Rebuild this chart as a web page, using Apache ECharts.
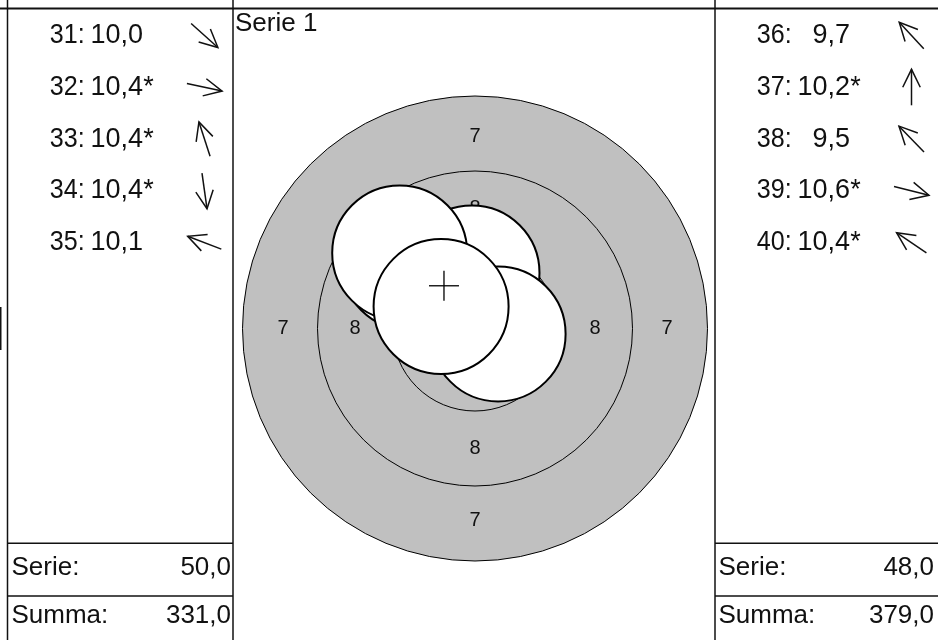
<!DOCTYPE html>
<html><head><meta charset="utf-8">
<script src="https://cdn.jsdelivr.net/npm/echarts@6/dist/echarts.min.js"></script>
<style>html,body{margin:0;padding:0;background:#fff}#c{width:938px;height:640px}</style>
</head><body><div id="c"></div><script>
// ---------- data ----------
const seriesTitle = 'Serie 1';
const leftShotNos = ['31','32','33','34','35'];
const leftScores = ['10,0','10,4','10,4','10,4','10,1'];
const leftStars = [false,true,true,true,false];
const leftArrowDeg = [-42,-12,108,-82,159];
const rightShotNos = ['36','37','38','39','40'];
const rightScores = ['9,7','10,2','9,5','10,6','10,4'];
const rightStars = [false,true,false,true,true];
const rightArrowDeg = [133,90,134,-14,146];
const footerLabels = ['Serie:','Summa:'];
const leftFooterValues = ['50,0','331,0'];
const rightFooterValues = ['48,0','379,0'];
// target, in mm (air rifle rings)
const ringRadii = [7.75,5.25,2.75,0.25];
const ringLabels = ['7','8'];
const ringLabelRadii = [6.4,4.0];
const shotX = [-2.20,-0.10,-2.51,0.77,-1.13];
const shotY = [2.20,1.85,2.52,-0.18,0.73];
const pelletRadius = 2.25;
const crossHalf = 0.5;

// ---------- chart ----------
const FONT = 'Liberation Sans, Arial, Helvetica, sans-serif';
const INK = '#111';
const chart = echarts.init(document.getElementById('c'), null, {renderer:'canvas'});

function rowsRender(nos, scores, stars, degs){
  return function(params, api){
    const i = api.value(1);
    const p = api.coord([0, i]);
    const cx = p[0] + 196.5, cy = p[1];
    const a = degs[i] * Math.PI / 180;
    const dx = Math.cos(a), dy = -Math.sin(a);
    const L = 36, B = 20, ba = 26 * Math.PI / 180;
    const hx = cx + dx*L/2, hy = cy + dy*L/2;
    const tx = cx - dx*L/2, ty = cy - dy*L/2;
    const back = Math.atan2(-dy, -dx);
    const b1 = [hx + B*Math.cos(back+ba), hy + B*Math.sin(back+ba)];
    const b2 = [hx + B*Math.cos(back-ba), hy + B*Math.sin(back-ba)];
    const ts = {fill:INK, fontSize:27, fontFamily:FONT, verticalAlign:'middle'};
    const kids = [
      {type:'text', x:p[0]+41.8, y:cy, scaleX:0.93, style:Object.assign({text:nos[i]+':', align:'left'}, ts)},
      {type:'text', x:p[0]+135, y:cy, style:Object.assign({text:scores[i], align:'right'}, ts)},
      {type:'line', shape:{x1:tx,y1:ty,x2:hx,y2:hy}, style:{stroke:INK, lineWidth:1.5}},
      {type:'polyline', shape:{points:[b1,[hx,hy],b2]}, style:{stroke:INK, lineWidth:1.5, fill:null}}
    ];
    if (stars[i]) kids.push({type:'text', x:p[0]+135.2, y:cy, style:Object.assign({text:'*', align:'left'}, ts)});
    return {type:'group', children:kids};
  };
}
function footerRender(labels, values, rightInset){
  return function(params, api){
    const i = api.value(1);
    const p = api.coord([0, i]);
    const r = api.coord([1, i]);
    const ts = {fill:INK, fontSize:26, fontFamily:FONT, verticalAlign:'middle'};
    return {type:'group', children:[
      {type:'text', x:p[0]+3.5, y:p[1], style:Object.assign({text:labels[i], align:'left'}, ts)},
      {type:'text', x:r[0]-rightInset, y:p[1], style:Object.assign({text:values[i], align:'right'}, ts)}
    ]};
  };
}

const labelData = [];
ringLabels.forEach((lab, j) => {
  [0,90,180,270].forEach(d => {
    const a = d*Math.PI/180;
    labelData.push([ringLabelRadii[j]*Math.cos(a), ringLabelRadii[j]*Math.sin(a), j]);
  });
});
const meanX = shotX.reduce((a,b)=>a+b,0)/shotX.length;
const meanY = shotY.reduce((a,b)=>a+b,0)/shotY.length;

const option = {
  animation:false,
  backgroundColor:'#fff',
  grid:[
    {left:235, top:88.5, width:480, height:480},
    {left:8, top:9.6, width:225, height:259},
    {left:715, top:9.6, width:225, height:259},
    {left:8, top:543.3, width:225, height:105.4},
    {left:715, top:543.3, width:221, height:105.4}
  ],
  xAxis:[
    {gridIndex:0, type:'value', min:-8, max:8, show:false},
    {gridIndex:1, type:'value', min:0, max:1, show:false},
    {gridIndex:2, type:'value', min:0, max:1, show:false},
    {gridIndex:3, type:'value', min:0, max:1, show:false},
    {gridIndex:4, type:'value', min:0, max:1, show:false}
  ],
  yAxis:[
    {gridIndex:0, type:'value', min:-8, max:8, show:false},
    {gridIndex:1, type:'category', data:leftShotNos, inverse:true, show:false},
    {gridIndex:2, type:'category', data:rightShotNos, inverse:true, show:false},
    {gridIndex:3, type:'category', data:footerLabels, inverse:true, show:false},
    {gridIndex:4, type:'category', data:footerLabels, inverse:true, show:false}
  ],
  graphic:[
    {type:'line', shape:{x1:0,y1:8.5,x2:938,y2:8.5}, style:{stroke:INK, lineWidth:2}, z:10},
    {type:'line', shape:{x1:7.5,y1:0,x2:7.5,y2:640}, style:{stroke:INK, lineWidth:1.5}, z:10},
    {type:'line', shape:{x1:233,y1:0,x2:233,y2:640}, style:{stroke:INK, lineWidth:1.5}, z:10},
    {type:'line', shape:{x1:715,y1:0,x2:715,y2:640}, style:{stroke:INK, lineWidth:1.5}, z:10},
    {type:'line', shape:{x1:7.5,y1:543.3,x2:233,y2:543.3}, style:{stroke:INK, lineWidth:1.5}, z:10},
    {type:'line', shape:{x1:7.5,y1:596,x2:233,y2:596}, style:{stroke:INK, lineWidth:1.5}, z:10},
    {type:'line', shape:{x1:715,y1:543.3,x2:938,y2:543.3}, style:{stroke:INK, lineWidth:1.5}, z:10},
    {type:'line', shape:{x1:715,y1:596,x2:938,y2:596}, style:{stroke:INK, lineWidth:1.5}, z:10},
    {type:'rect', shape:{x:0,y:307,width:1.5,height:43}, style:{fill:INK}, z:10},
    {type:'text', x:235, y:23.5, style:{text:seriesTitle, fill:INK, fontSize:26, fontFamily:FONT, align:'left', verticalAlign:'middle'}, z:10}
  ],
  series:[
    {type:'custom', coordinateSystem:'cartesian2d', xAxisIndex:0, yAxisIndex:0, z:1,
     data: ringRadii.map((r,i)=>[0,0,r,i]),
     renderItem:function(params, api){
       const c = api.coord([api.value(0), api.value(1)]);
       const rr = api.size([api.value(2), 0])[0];
       const first = api.value(3) === 0;
       return {type:'circle', shape:{cx:c[0], cy:c[1], r:rr},
         style:{fill: first ? '#c0c0c0' : null, stroke:'#000', lineWidth:1}};
     }},
    {type:'custom', coordinateSystem:'cartesian2d', xAxisIndex:0, yAxisIndex:0, z:2,
     data: labelData,
     renderItem:function(params, api){
       const c = api.coord([api.value(0), api.value(1)]);
       return {type:'text', x:c[0], y:c[1], style:{text:ringLabels[api.value(2)], fill:INK, fontSize:20, fontFamily:FONT, align:'center', verticalAlign:'middle'}};
     }},
    {type:'custom', coordinateSystem:'cartesian2d', xAxisIndex:0, yAxisIndex:0, z:3,
     data: shotX.map((x,i)=>[x, shotY[i]]),
     renderItem:function(params, api){
       const c = api.coord([api.value(0), api.value(1)]);
       const rr = api.size([pelletRadius, 0])[0];
       return {type:'circle', shape:{cx:c[0], cy:c[1], r:rr}, style:{fill:'#fff', stroke:'#000', lineWidth:2}};
     }},
    {type:'custom', coordinateSystem:'cartesian2d', xAxisIndex:0, yAxisIndex:0, z:4,
     data: [[meanX, meanY]],
     renderItem:function(params, api){
       const c = api.coord([api.value(0), api.value(1)]);
       const h = api.size([crossHalf, crossHalf]);
       return {type:'group', children:[
         {type:'line', shape:{x1:c[0]-h[0], y1:c[1], x2:c[0]+h[0], y2:c[1]}, style:{stroke:'#000', lineWidth:1.3}},
         {type:'line', shape:{x1:c[0], y1:c[1]-h[1], x2:c[0], y2:c[1]+h[1]}, style:{stroke:'#000', lineWidth:1.3}}
       ]};
     }},
    {type:'custom', coordinateSystem:'cartesian2d', xAxisIndex:1, yAxisIndex:1,
     data: leftShotNos.map((n,i)=>[0,i]), renderItem: rowsRender(leftShotNos, leftScores, leftStars, leftArrowDeg)},
    {type:'custom', coordinateSystem:'cartesian2d', xAxisIndex:2, yAxisIndex:2,
     data: rightShotNos.map((n,i)=>[0,i]), renderItem: rowsRender(rightShotNos, rightScores, rightStars, rightArrowDeg)},
    {type:'custom', coordinateSystem:'cartesian2d', xAxisIndex:3, yAxisIndex:3,
     data: footerLabels.map((n,i)=>[0,i]), renderItem: footerRender(footerLabels, leftFooterValues, 2)},
    {type:'custom', coordinateSystem:'cartesian2d', xAxisIndex:4, yAxisIndex:4,
     data: footerLabels.map((n,i)=>[0,i]), renderItem: footerRender(footerLabels, rightFooterValues, 2)}
  ]
};
chart.setOption(option);
</script></body></html>
